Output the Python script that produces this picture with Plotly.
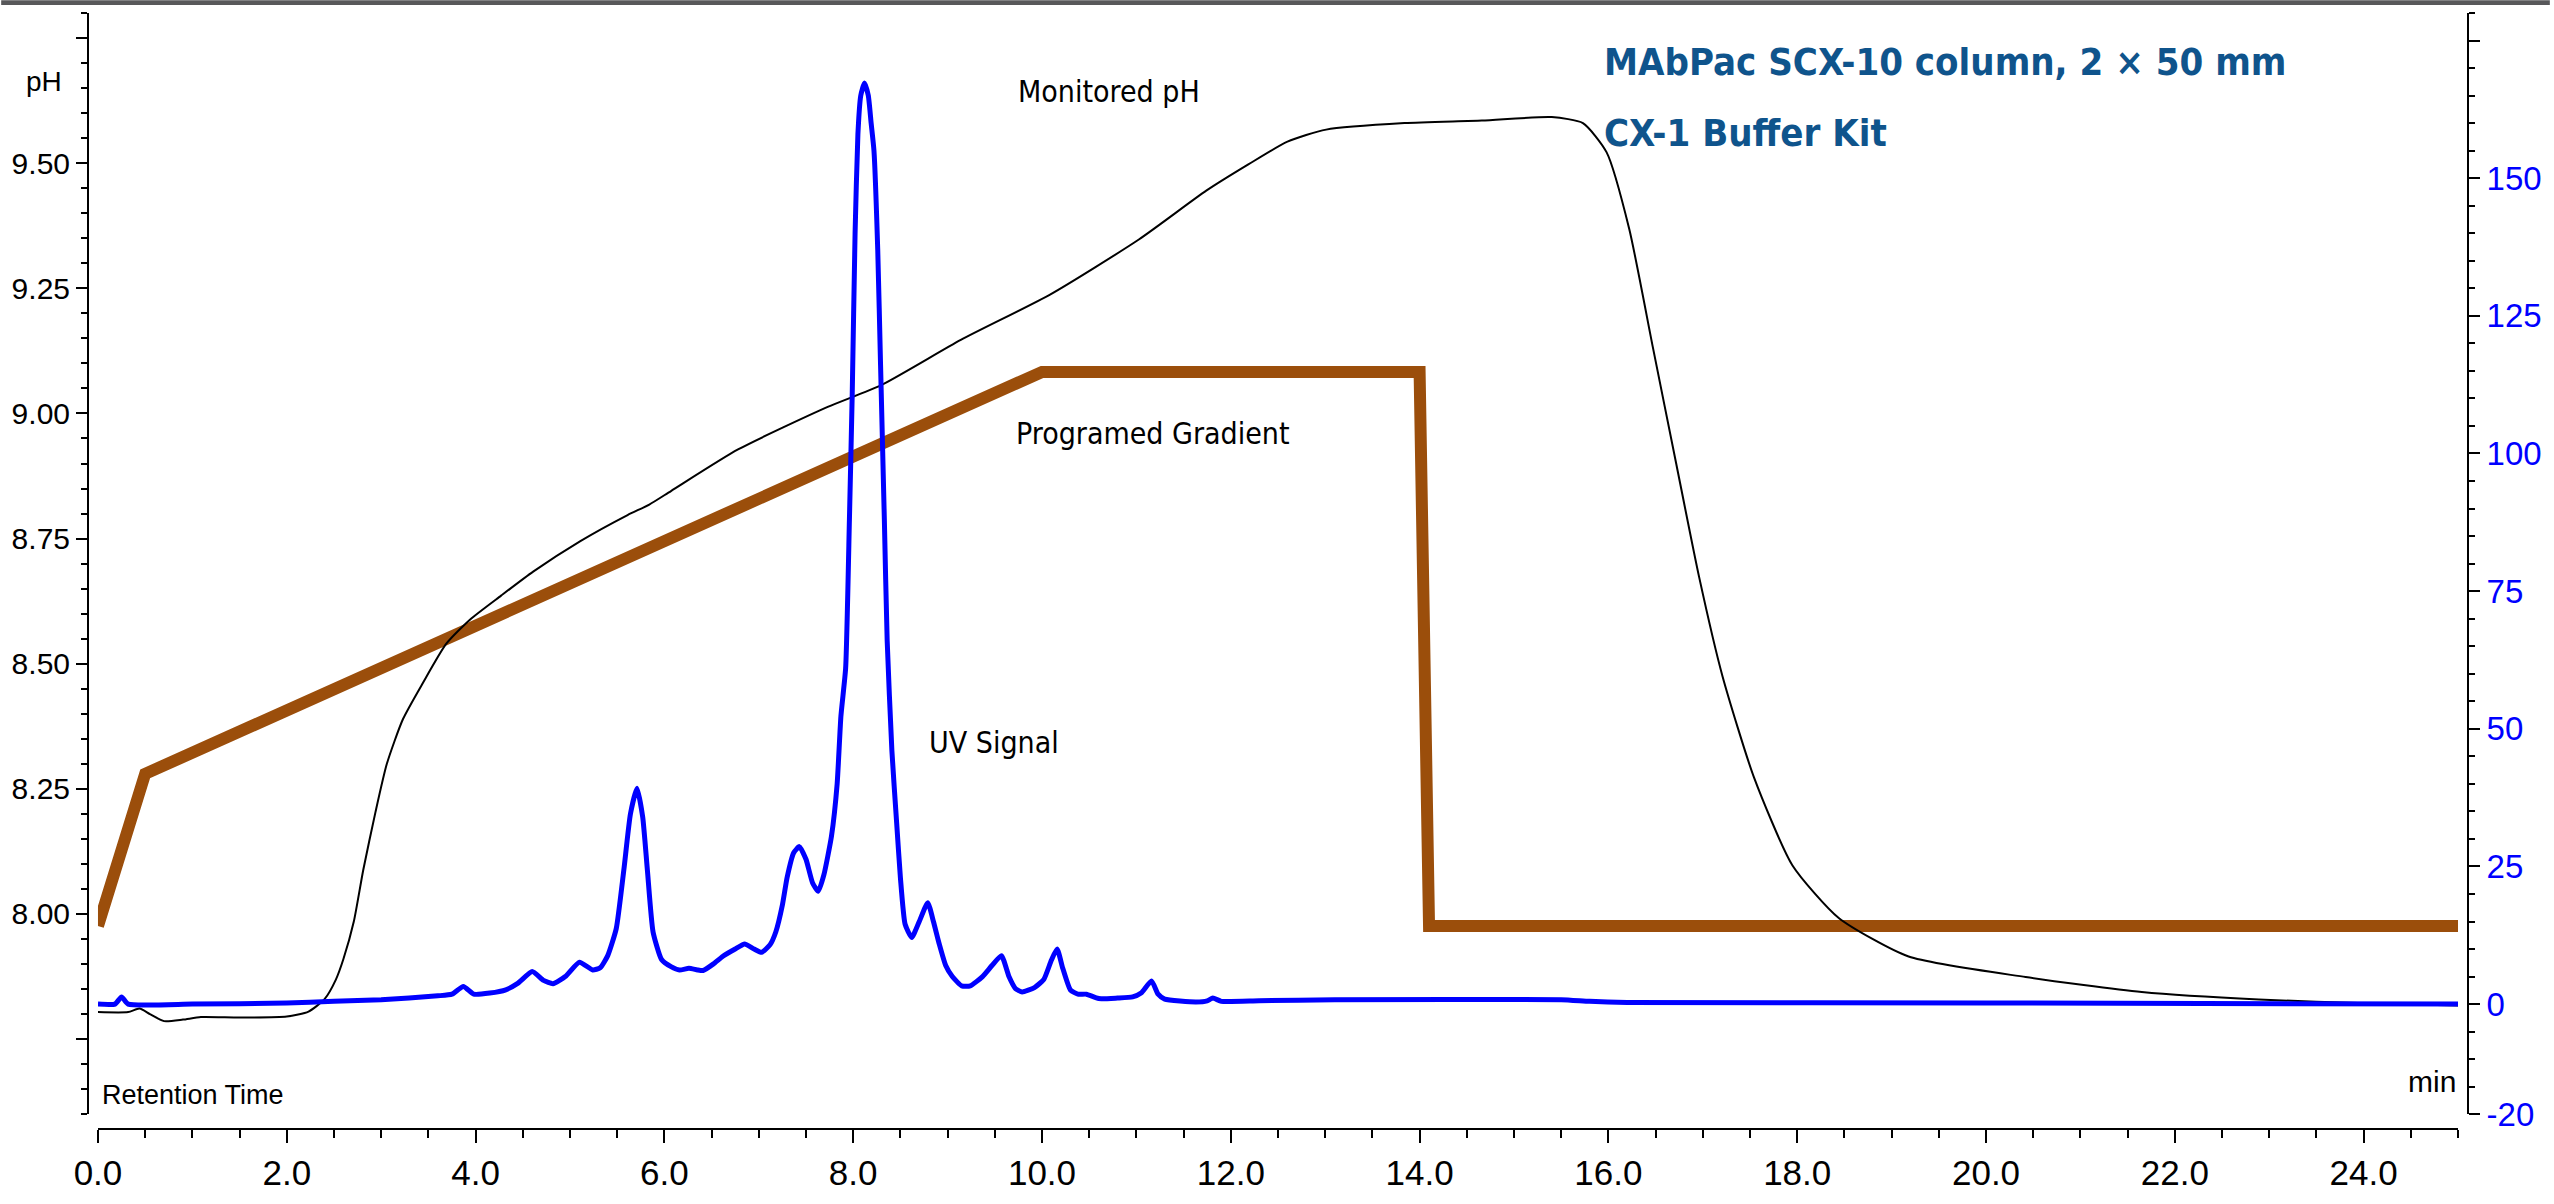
import plotly.graph_objects as go

# ---------------- data ----------------
# Programed gradient (pH, left axis)
grad_t = [0.0, 0.5, 10.0, 14.0, 14.1, 25.0]
grad_ph = [7.976, 8.28, 9.083, 9.083, 7.976, 7.976]

# Monitored pH (left axis)
ph_t = [0.0, 0.32, 0.44, 0.55, 0.70, 0.90, 1.09, 1.5, 2.0, 2.23, 2.40, 2.52, 2.60, 2.71,
        2.81, 2.94, 3.06, 3.23, 3.44, 3.69, 3.94, 4.27, 4.61, 5.11, 5.61, 5.84, 6.07,
        6.78, 7.73, 8.29, 9.14, 10.09, 11.03, 11.74, 12.19, 12.60, 13.01, 13.84, 14.66,
        15.40, 15.73, 15.98, 16.22, 16.47, 16.72, 16.96, 17.21, 17.54, 17.95, 18.44,
        19.18, 20.42, 21.65, 22.89, 24.12, 25.0]
ph_val = [7.804, 7.804, 7.811, 7.800, 7.786, 7.789, 7.794, 7.793, 7.795, 7.805, 7.830,
          7.869, 7.910, 7.985, 8.088, 8.204, 8.300, 8.389, 8.461, 8.540, 8.588, 8.636,
          8.684, 8.745, 8.797, 8.818, 8.845, 8.928, 9.013, 9.056, 9.147, 9.238, 9.348,
          9.445, 9.498, 9.543, 9.567, 9.580, 9.585, 9.592, 9.580, 9.522, 9.369, 9.133,
          8.898, 8.674, 8.474, 8.274, 8.097, 7.992, 7.915, 7.874, 7.844, 7.829, 7.821,
          7.817]

# UV signal (right axis)
uv_t = [0.0, 0.18, 0.25, 0.32, 1.0, 2.0, 2.5, 3.0, 3.6, 3.75, 3.87, 3.98, 4.15, 4.32,
        4.45, 4.60, 4.72, 4.82, 4.95, 5.10, 5.24, 5.32, 5.40, 5.49, 5.57, 5.64, 5.71,
        5.77, 5.82, 5.88, 5.97, 6.07, 6.16, 6.26, 6.35, 6.41, 6.52, 6.62, 6.75, 6.85,
        6.95, 7.03, 7.12, 7.18, 7.25, 7.30, 7.37, 7.43, 7.50, 7.57, 7.63, 7.69, 7.77,
        7.83, 7.87, 7.92, 7.96, 7.99, 8.02, 8.05, 8.08, 8.12, 8.16, 8.19, 8.22, 8.26,
        8.29, 8.33, 8.36, 8.41, 8.46, 8.50, 8.55, 8.62, 8.70, 8.79, 8.85, 8.91, 8.98,
        9.05, 9.15, 9.24, 9.37, 9.47, 9.57, 9.65, 9.72, 9.79, 9.92, 10.02, 10.10, 10.16,
        10.22, 10.30, 10.38, 10.47, 10.60, 10.80, 10.96, 11.05, 11.16, 11.23, 11.30,
        11.63, 11.75, 11.81, 11.90, 12.3, 13.1, 15.5, 15.8, 16.2, 20.0, 25.0]
uv_val = [0.0, 0.0, 1.3, 0.0, 0.0, 0.2, 0.5, 0.8, 1.5, 1.8, 3.2, 1.8, 2.0, 2.6,
          3.8, 5.9, 4.3, 3.7, 5.0, 7.6, 6.2, 6.6, 8.8, 13.7, 24.3, 34.5, 39.2,
          34.0, 24.3, 13.1, 8.1, 6.8, 6.2, 6.5, 6.2, 6.1, 7.3, 8.7, 10.0, 10.9,
          10.0, 9.4, 10.8, 13.1, 18.0, 23.0, 27.5, 28.6, 26.3, 22.0, 20.5, 23.5, 30.5,
          40.0, 52.3, 61.0, 88.0, 111.0, 140.0, 158.0, 165.0, 167.3, 165.0, 160.0, 155.0, 137.0,
          116.0, 88.0, 66.0, 46.0, 33.0, 23.0, 14.5, 12.1, 15.0, 18.4, 15.0, 11.0, 7.0,
          5.0, 3.3, 3.3, 5.0, 7.0, 8.8, 5.0, 2.8, 2.2, 3.0, 4.5, 8.0, 10.0,
          6.5, 2.6, 1.8, 1.8, 1.0, 1.1, 1.3, 2.0, 4.2, 1.8, 0.9,
          0.4, 0.6, 1.1, 0.5, 0.6, 0.8, 0.8, 0.5, 0.3, 0.2, 0.0]

ph_tickvals = [7.75, 8.0, 8.25, 8.5, 8.75, 9.0, 9.25, 9.5, 9.75]
ph_ticktext = ["", "8.00", "8.25", "8.50", "8.75", "9.00", "9.25", "9.50", ""]
uv_tickvals = [-20, 0, 25, 50, 75, 100, 125, 150, 175]
uv_ticktext = ["-20", "0", "25", "50", "75", "100", "125", "150", ""]
x_tickvals = [0, 2, 4, 6, 8, 10, 12, 14, 16, 18, 20, 22, 24]
x_ticktext = ["0.0", "2.0", "4.0", "6.0", "8.0", "10.0", "12.0", "14.0", "16.0",
              "18.0", "20.0", "22.0", "24.0"]

# ---------------- figure ----------------
W, H = 2554, 1204
ML, MR, MT, MB = 87, 82, 13, 59
pw = W - ML - MR
ph_ = H - MT - MB
xdom = [10 / pw, 1 - 10 / pw]
ydom = [15 / ph_, 1]

BROWN = "#9B4E0B"
BLUE = "#0000FF"
TITLE = "#0F548C"
NARROW = "Liberation Sans Narrow, DejaVu Sans Condensed, Arial Narrow, sans-serif"
SANS = "Liberation Sans, Arial, sans-serif"

fig = go.Figure()
fig.add_trace(go.Scatter(x=grad_t, y=grad_ph, mode="lines", yaxis="y",
                         line=dict(color=BROWN, width=12), hoverinfo="skip",
                         showlegend=False))
fig.add_trace(go.Scatter(x=ph_t, y=ph_val, mode="lines", yaxis="y",
                         line=dict(color="black", width=2, shape="spline", smoothing=0.6),
                         showlegend=False))
fig.add_trace(go.Scatter(x=uv_t, y=uv_val, mode="lines", yaxis="y2",
                         line=dict(color=BLUE, width=5, shape="spline", smoothing=0.5),
                         showlegend=False))

axis_common = dict(showgrid=False, zeroline=False, showline=True, linecolor="black",
                   linewidth=2, ticks="outside", tickcolor="black", tickwidth=2)

fig.update_layout(
    width=W, height=H,
    margin=dict(l=ML, r=MR, t=MT, b=MB),
    paper_bgcolor="white", plot_bgcolor="white",
    showlegend=False,
    xaxis=dict(range=[0, 25], domain=xdom, anchor="free", position=0,
               tickmode="array", tickvals=x_tickvals, ticktext=x_ticktext,
               ticklen=13, tickfont=dict(family=SANS, size=35, color="black"),
               minor=dict(tickmode="linear", tick0=0, dtick=0.5, ticklen=8,
                          tickwidth=2, tickcolor="black", ticks="outside"),
               **axis_common),
    yaxis=dict(range=[7.6, 9.8], domain=ydom, anchor="free", position=0, side="left",
               tickmode="array", tickvals=ph_tickvals, ticktext=ph_ticktext,
               ticklen=11, tickfont=dict(family=SANS, size=30, color="black"),
               minor=dict(tickmode="linear", tick0=7.6, dtick=0.05, ticklen=6,
                          tickwidth=2, tickcolor="black", ticks="outside"),
               **axis_common),
    yaxis2=dict(range=[-20, 180], domain=ydom, anchor="free", position=1, side="right",
                overlaying="y",
                tickmode="array", tickvals=uv_tickvals, ticktext=uv_ticktext,
                ticklen=11, tickfont=dict(family=SANS, size=33, color=BLUE),
                minor=dict(tickmode="linear", tick0=0, dtick=5, ticklen=6,
                           tickwidth=2, tickcolor="black", ticks="outside"),
                **axis_common),
)

ann = [
    dict(text="Monitored pH", x=9.72, y=9.643, xanchor="left", yanchor="middle",
         xref="x", font=dict(family=NARROW, size=30, color="black")),
    dict(text="Programed Gradient", x=9.70, y=8.959, xanchor="left", yanchor="middle",
         xref="x", font=dict(family=NARROW, size=30, color="black")),
    dict(text="UV Signal", x=8.78, y=8.342, xanchor="left", yanchor="middle",
         xref="x", font=dict(family=NARROW, size=30, color="black")),
    dict(text="<b>MAbPac SCX-10 column, 2 × 50 mm</b>", x=15.93, y=9.702,
         xanchor="left", yanchor="middle", xref="x",
         font=dict(family=NARROW, size=38, color=TITLE)),
    dict(text="<b>CX-1 Buffer Kit</b>", x=15.93, y=9.561,
         xanchor="left", yanchor="middle", xref="x",
         font=dict(family=NARROW, size=38, color=TITLE)),
    dict(text="pH", x=(43 - ML) / pw, y=9.663, xanchor="center", yanchor="middle",
         xref="paper", font=dict(family=SANS, size=28, color="black")),
    dict(text="Retention Time", x=0.02, y=7.638, xanchor="left", yanchor="middle",
         xref="x", font=dict(family=SANS, size=27, color="black")),
    dict(text="min", x=25.0, y=7.666, xanchor="right", yanchor="middle",
         xref="x", font=dict(family=SANS, size=30, color="black")),
]
for a in ann:
    fig.add_annotation(yref="y", showarrow=False, **a)

# dark band along the very top edge of the picture
fig.add_shape(type="rect", xref="paper", yref="paper",
              x0=-ML / pw, x1=1 + MR / pw,
              y0=1 + (MT - 5) / ph_, y1=1 + MT / ph_,
              fillcolor="#58585A", line=dict(width=0), layer="above")

fig.write_html("out.html",
               config={"displayModeBar": False},
               post_script="document.body.style.margin='0';"
                           "document.body.style.overflow='hidden';")
